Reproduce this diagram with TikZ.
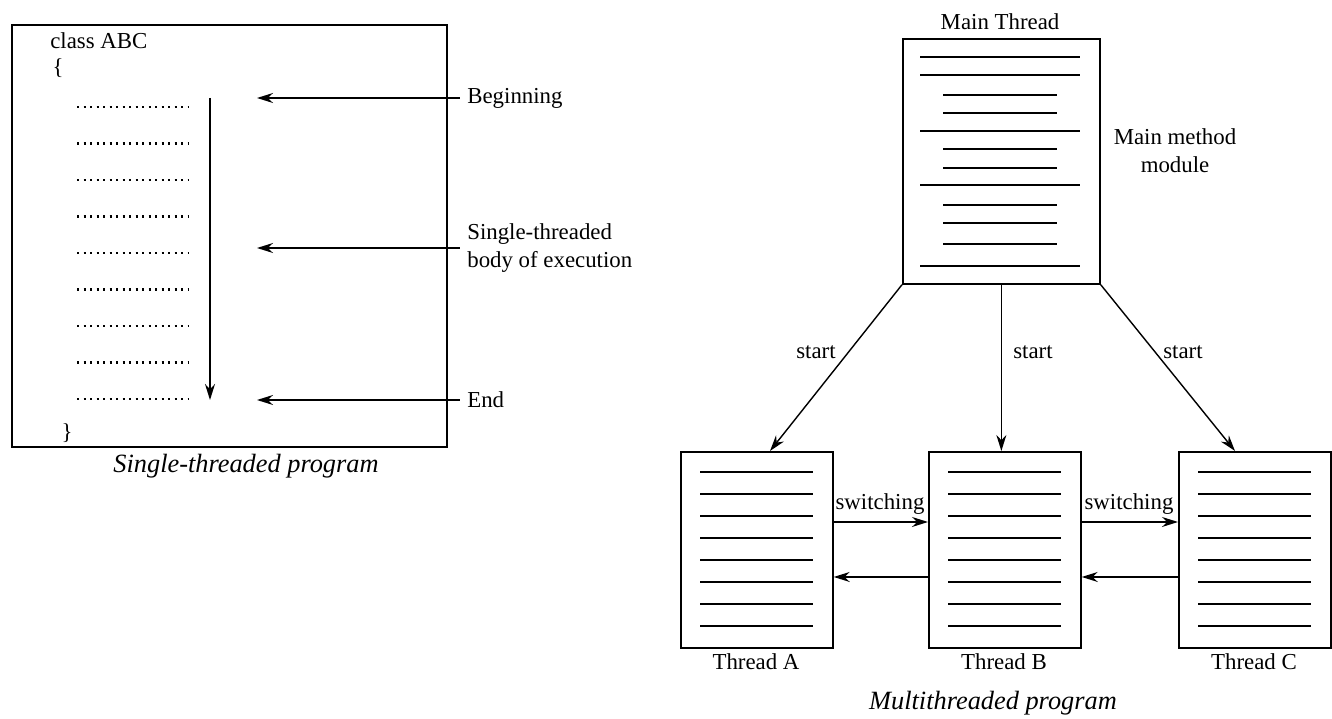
\documentclass[tikz,border=0pt]{standalone}
\usepackage{fontspec}
\setmainfont{Liberation Serif}
\usetikzlibrary{arrows.meta}
\tikzset{
  lbl/.style={font=\fontsize{13}{16}\selectfont, inner sep=0pt},
  captxt/.style={font=\fontsize{15}{18}\selectfont\itshape, inner sep=0pt},
  arr/.style={-{Stealth[length=3.2mm,width=2mm]}, line width=0.8pt},
  thrbox/.style={draw, line width=1pt, minimum width=3.04cm, minimum height=3.92cm, inner sep=0pt, anchor=north west},
  codeline/.style={line width=1.3pt, dash pattern=on 1.2pt off 2.5pt},
  txtline/.style={line width=0.9pt},
}
\begin{document}
\begin{tikzpicture}[x=0.02cm,y=-0.02cm]
  \useasboundingbox (0,0) rectangle (1332,719);
  % single-threaded program
  \node[draw, line width=1pt, minimum width=8.7cm, minimum height=8.44cm, inner sep=0pt, anchor=north west] (prog) at (11,24) {};
  \node[lbl, anchor=west] (cls) at (50,41) {class ABC};
  \node[lbl] (ob) at (58,68) {\{};
  \node[lbl] (cb) at (67,433) {\}};
  \foreach \i in {0,...,8}
    \draw[codeline] (77,{107+36.5*\i}) -- (188,{107+36.5*\i});
  \coordinate (flowtop) at (210,98);
  \coordinate (flowbot) at (210,400);
  \draw[arr] (flowtop) -- (flowbot);
  \node[lbl, anchor=west] (beg) at (467,98) {Beginning};
  \node[lbl, anchor=west, align=left] (body) at (467,248) {Single-threaded\\body of execution};
  \node[lbl, anchor=west] (fin) at (467,400) {End};
  \coordinate (begtip) at (257,98);
  \coordinate (bodytip) at (257,248);
  \coordinate (fintip) at (257,400);
  \draw[arr] ([xshift=-4pt]beg.west) -- (begtip);
  \draw[arr] ([xshift=-4pt]body.west) -- (bodytip);
  \draw[arr] ([xshift=-4pt]fin.west) -- (fintip);
  \node[captxt] (cap1) at (246,466) {Single-threaded program};
  % multithreaded program
  \node[draw, line width=1pt, minimum width=3.94cm, minimum height=4.9cm, inner sep=0pt, anchor=north west] (main) at (902,38) {};
  \node[lbl] (mainlbl) at (1000,22) {Main Thread};
  \foreach \y in {57,75,131,185,266}
    \draw[txtline] (920,\y) -- (1080,\y);
  \foreach \y in {95,113,149,168,205,223,244}
    \draw[txtline] (943,\y) -- (1057,\y);
  \node[lbl, align=center] (mm) at (1175,151) {Main method\\module};
  \foreach \n/\x in {A/680,B/928,C/1178} {
    \node[thrbox] (th\n) at (\x,451) {};
    \foreach \y in {472,494,...,626}
      \draw[txtline] (\x+20,\y) -- (\x+133,\y);
    \node[lbl] (lab\n) at (\x+76,662) {Thread \n};
  }
  \coordinate (tipA) at (770,451);
  \coordinate (tipC) at (1235,451);
  \draw[arr] (main.south west) -- (tipA);
  \draw[arr] (main.south) -- (main.south |- thB.north);
  \draw[arr] (main.south east) -- (tipC);
  \node[lbl] (stA) at (816,352) {start};
  \node[lbl] (stB) at (1033,352) {start};
  \node[lbl] (stC) at (1183,352) {start};
  % switching
  \draw[arr] ([yshift=-1.42cm]thA.north east) -- ([yshift=-1.42cm]thB.north west);
  \draw[arr] ([yshift=-1.42cm]thB.north east) -- ([yshift=-1.42cm]thC.north west);
  \draw[arr, line width=0.7pt] ([yshift=-2.52cm]thB.north west) -- ([yshift=-2.52cm]thA.north east);
  \draw[arr, line width=0.7pt] ([yshift=-2.52cm]thC.north west) -- ([yshift=-2.52cm]thB.north east);
  \node[lbl] (swAB) at (880,504) {switching};
  \node[lbl] (swBC) at (1129,504) {switching};
  \node[captxt] (cap2) at (993,703) {Multithreaded program};
\end{tikzpicture}
\end{document}
